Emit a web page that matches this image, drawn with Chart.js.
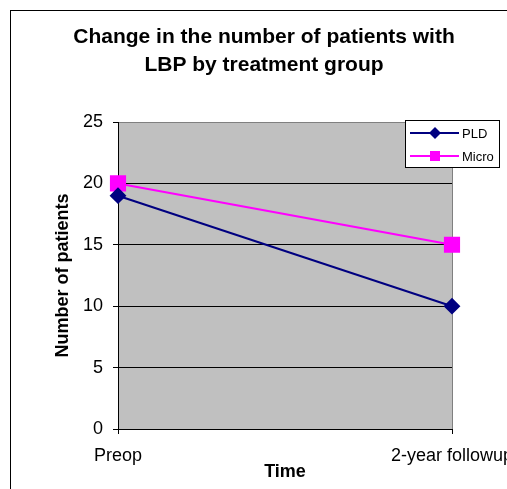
<!DOCTYPE html>
<html>
<head>
<meta charset="utf-8">
<title>LBP by treatment group</title>
<script src="https://cdn.jsdelivr.net/npm/chart.js@4.4.1/dist/chart.umd.min.js"></script>
<style>
    html, body { margin: 0; padding: 0; background: #fff; }
    #wrap { width: 507px; height: 489px; position: relative; }
</style>
</head>
<body>
<div id="wrap"><canvas id="chart" width="507" height="489"></canvas></div>
<script>
// values
var TIMES = ['Preop', '2-year followup'];
var PLD = [19, 10];
var MICRO = [20, 15];
var Y_TICKS = [0, 5, 10, 15, 20, 25];
var TITLE_LINES = ['Change in the number of patients with', 'LBP by treatment group'];

(function () {
    'use strict';

    var FONT = '"Liberation Sans", Arial, Helvetica, sans-serif';
    var NAVY = '#000080';
    var MAGENTA = '#FF00FF';

    // grey plot area + right border, drawn under grid and lines
    var plotBack = {
        id: 'plotBack',
        beforeDraw: function (chart) {
            var a = chart.chartArea;
            var ctx = chart.ctx;
            ctx.save();
            ctx.fillStyle = '#C0C0C0';
            ctx.fillRect(a.left, a.top, a.right - a.left, a.bottom - a.top);
            ctx.strokeStyle = '#808080';
            ctx.lineWidth = 1;
            ctx.beginPath();
            ctx.moveTo(Math.round(a.right) + 0.5, a.top);
            ctx.lineTo(Math.round(a.right) + 0.5, a.bottom);
            ctx.stroke();
            ctx.restore();
        }
    };

    // outer chart border (runs off the right/bottom edge like the original)
    var outerFrame = {
        id: 'outerFrame',
        afterDraw: function (chart) {
            var ctx = chart.ctx;
            ctx.save();
            ctx.strokeStyle = '#000';
            ctx.lineWidth = 1;
            ctx.strokeRect(10.5, 10.5, chart.width + 20, chart.height + 20);
            ctx.restore();
        }
    };

    // boxed legend overlapping the top right of the plot
    var boxLegend = {
        id: 'boxLegend',
        afterDraw: function (chart) {
            var ctx = chart.ctx;
            var bx = 405.5, by = 120.5, bw = 94, bh = 47;
            ctx.save();
            ctx.fillStyle = '#fff';
            ctx.fillRect(bx, by, bw, bh);
            ctx.strokeStyle = '#000';
            ctx.lineWidth = 1;
            ctx.strokeRect(bx, by, bw, bh);
            var rows = [133, 156];
            chart.data.datasets.forEach(function (ds, i) {
                var y = rows[i];
                ctx.strokeStyle = ds.borderColor;
                ctx.lineWidth = 2;
                ctx.beginPath();
                ctx.moveTo(410, y);
                ctx.lineTo(459, y);
                ctx.stroke();
                ctx.fillStyle = ds.pointBackgroundColor;
                ctx.beginPath();
                if (ds.pointStyle === 'rectRot') {
                    ctx.moveTo(435, y - 6);
                    ctx.lineTo(441, y);
                    ctx.lineTo(435, y + 6);
                    ctx.lineTo(429, y);
                    ctx.closePath();
                    ctx.fill();
                } else {
                    ctx.fillRect(430, y - 5, 10, 10);
                }
                ctx.fillStyle = '#000';
                ctx.font = '13px ' + FONT;
                ctx.textBaseline = 'middle';
                ctx.textAlign = 'left';
                ctx.fillText(ds.label, 462, y + 1);
            });
            ctx.restore();
        }
    };

    function boot() {
        var canvas = document.getElementById('chart');
        if (!canvas || typeof Chart === 'undefined') {
            return;
        }

        new Chart(canvas, {
            type: 'line',
            data: {
                labels: TIMES,
                datasets: [
                    {
                        label: 'PLD',
                        data: PLD,
                        borderColor: NAVY,
                        backgroundColor: NAVY,
                        pointBackgroundColor: NAVY,
                        pointBorderColor: NAVY,
                        pointStyle: 'rectRot',
                        pointRadius: 7,
                        borderWidth: 2,
                        tension: 0
                    },
                    {
                        label: 'Micro',
                        data: MICRO,
                        borderColor: MAGENTA,
                        backgroundColor: MAGENTA,
                        pointBackgroundColor: MAGENTA,
                        pointBorderColor: MAGENTA,
                        pointStyle: 'rect',
                        pointRadius: 10,
                        borderWidth: 2,
                        tension: 0
                    }
                ]
            },
            options: {
                responsive: false,
                animation: false,
                events: [],
                layout: { padding: { left: 21, right: 0, top: 0, bottom: 0 } },
                plugins: {
                    legend: { display: false },
                    tooltip: { enabled: false },
                    title: {
                        display: true,
                        text: TITLE_LINES,
                        color: '#000',
                        font: { family: FONT, size: 21, weight: 'bold', lineHeight: '28px' },
                        padding: { top: 23, bottom: 43 }
                    }
                },
                scales: {
                    x: {
                        offset: false,
                        afterFit: function (scale) {
                            scale.height = 60;
                            scale.paddingLeft = 0;
                            scale.paddingRight = 55;
                        },
                        grid: {
                            drawOnChartArea: false,
                            drawTicks: true,
                            tickLength: 5,
                            color: '#000'
                        },
                        border: { display: true, color: '#000' },
                        ticks: {
                            color: '#000',
                            autoSkip: false,
                            maxRotation: 0,
                            padding: 11,
                            font: { family: FONT, size: 18 }
                        },
                        title: {
                            display: true,
                            text: 'Time',
                            color: '#000',
                            font: { family: FONT, size: 18, weight: 'bold' },
                            padding: { top: 0, bottom: 6 }
                        }
                    },
                    y: {
                        min: Y_TICKS[0],
                        max: Y_TICKS[Y_TICKS.length - 1],
                        afterFit: function (scale) {
                            scale.width = 97;
                        },
                        afterBuildTicks: function (scale) {
                            scale.ticks = Y_TICKS.map(function (v) { return { value: v }; });
                        },
                        grid: {
                            tickLength: 5,
                            tickColor: '#000',
                            color: function (ctx) {
                                return ctx.tick && ctx.tick.value === 25 ? '#808080' : '#000';
                            }
                        },
                        border: { display: true, color: '#000' },
                        ticks: {
                            color: '#000',
                            padding: 10,
                            font: { family: FONT, size: 18 }
                        },
                        title: {
                            display: true,
                            text: 'Number of patients',
                            color: '#000',
                            font: { family: FONT, size: 18, weight: 'bold' },
                            padding: { top: 31, bottom: 0 }
                        }
                    }
                }
            },
            plugins: [plotBack, outerFrame, boxLegend]
        });
    }

    if (document.readyState === 'loading') {
        document.addEventListener('DOMContentLoaded', boot);
    } else {
        boot();
    }
})();
</script>
</body>
</html>
